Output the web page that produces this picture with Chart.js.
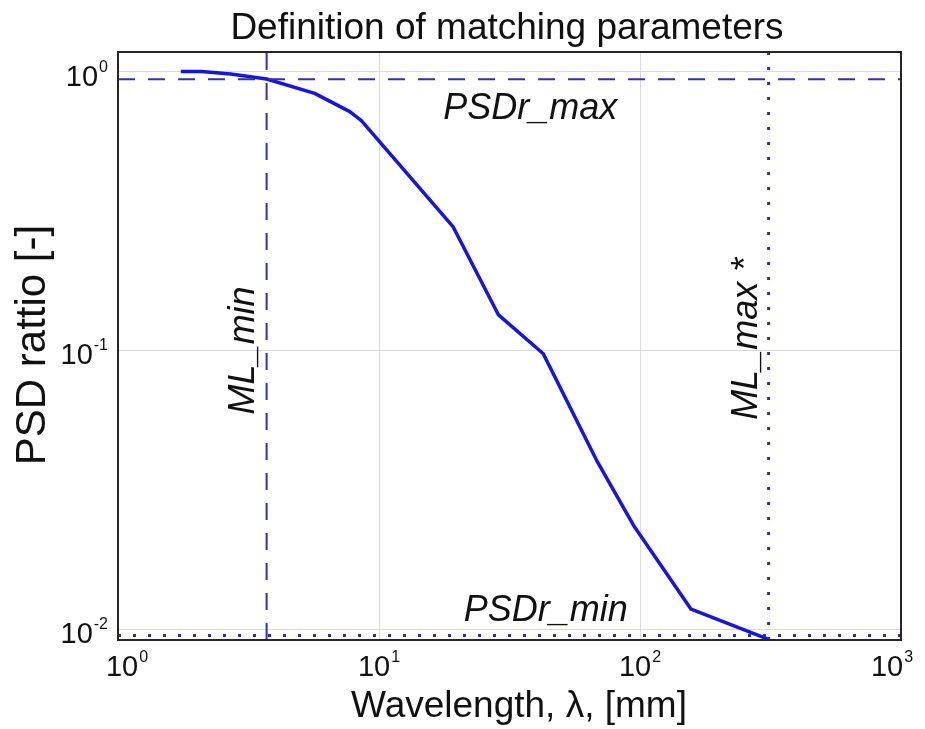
<!DOCTYPE html>
<html>
<head>
<meta charset="utf-8">
<title>Definition of matching parameters</title>
<script src="https://cdn.jsdelivr.net/npm/chart.js@4.4.1/dist/chart.umd.min.js"></script>
<style>
  html, body { margin: 0; padding: 0; background: #ffffff; }
  #wrap { width: 925px; height: 729px; }
</style>
</head>
<body>
<div id="wrap"><canvas id="chart" width="925" height="729"></canvas></div>
<script>
// PSD ratio curve against wavelength
const wavelength = [1.74, 2.09, 2.7, 3.71, 5.67, 7.73, 8.56, 19.2, 28.7, 42.6, 68.7, 95.2, 156.9, 311];
const psdRatio   = [1.0, 1.0, 0.98, 0.94, 0.835, 0.718, 0.667, 0.278, 0.134, 0.0973, 0.0398, 0.0233, 0.0118, 0.0092];

// matching parameters
const mlMin = 3.71;
const mlMax = 311;
const psdrMax = 0.938;
const psdrMin = 0.0095;

// axis ranges and decade ticks
const xRange = [1, 1000];
const yRange = [0.00915, 1.175];
const xTickExps = [0, 1, 2, 3];
const yTickExps = [-2, -1, 0];

const FONT = '"Liberation Sans", Arial, Helvetica, sans-serif';
const INK = '#111111';

function pts(xs, ys) { return xs.map((x, i) => ({ x: x, y: ys[i] })); }

const datasets = [
  { // horizontal PSDr_max
    data: pts(xRange, [psdrMax, psdrMax]),
    borderColor: '#2f2fb8', borderWidth: 2, borderDash: [17, 13], pointRadius: 0
  },
  { // vertical ML_min
    data: pts([mlMin, mlMin], yRange),
    borderColor: '#2f2fb8', borderWidth: 2, borderDash: [17, 13], pointRadius: 0
  },
  { // horizontal PSDr_min
    data: pts(xRange, [psdrMin, psdrMin]),
    borderColor: '#2d2daa', borderWidth: 3, borderDash: [3, 12], borderCapStyle: 'butt', pointRadius: 0
  },
  { // vertical ML_max
    data: pts([mlMax, mlMax], yRange),
    borderColor: '#2d2daa', borderWidth: 3, borderDash: [3, 12], borderCapStyle: 'butt', pointRadius: 0
  },
  { // PSD ratio
    data: pts(wavelength, psdRatio),
    borderColor: '#1414e6', borderWidth: 3.5, pointRadius: 0, borderJoinStyle: 'round'
  }
];

function powLabel(ctx, exp, x, y, align) {
  // draws "10^exp" with the exponent raised; x is the anchor, y the main baseline
  const base = '10', sup = String(exp);
  ctx.font = '29px ' + FONT;
  const wb = ctx.measureText(base).width;
  ctx.font = '16px ' + FONT;
  const ws = ctx.measureText(sup).width;
  const total = wb + 1 + ws;
  let left = x;
  if (align === 'center') left = x - total / 2;
  else if (align === 'right') left = x - total;
  ctx.textAlign = 'left';
  ctx.textBaseline = 'alphabetic';
  ctx.font = '29px ' + FONT;
  ctx.fillText(base, left, y);
  ctx.font = '16px ' + FONT;
  ctx.fillText(sup, left + wb + 1, y - 14);
}

const decor = {
  id: 'decor',
  beforeDatasetsDraw(chart) {
    const ctx = chart.ctx;
    const xs = chart.scales.x, ys = chart.scales.y;
    const a = chart.chartArea;
    ctx.save();
    ctx.fillStyle = INK;

    // tick labels
    xTickExps.forEach((e, i) => {
      let px = xs.getPixelForValue(Math.pow(10, e));
      if (i === 0) px += 9;
      if (i === xTickExps.length - 1) px -= 9;
      powLabel(ctx, e, px, a.bottom + 36, 'center');
    });
    yTickExps.forEach(e => {
      const py = ys.getPixelForValue(Math.pow(10, e));
      powLabel(ctx, e, a.left - 10, py + 14, 'right');
    });

    // title and axis titles
    ctx.textAlign = 'center';
    ctx.textBaseline = 'alphabetic';
    ctx.font = '37px ' + FONT;
    ctx.fillText('Definition of matching parameters', 507, 39);
    ctx.fillText('Wavelength, \u03bb, [mm]', 519, 717);
    ctx.save();
    ctx.translate(45, 345);
    ctx.rotate(-Math.PI / 2);
    ctx.font = '42px ' + FONT;
    ctx.fillText('PSD rattio [-]', 0, 0);
    ctx.restore();
    ctx.restore();
  },
  afterDatasetsDraw(chart) {
    const ctx = chart.ctx;
    const xs = chart.scales.x, ys = chart.scales.y;
    const a = chart.chartArea;
    ctx.save();
    ctx.fillStyle = INK;
    ctx.font = 'italic 36px ' + FONT;
    ctx.textAlign = 'center';
    ctx.textBaseline = 'alphabetic';
    ctx.fillText('PSDr_max', xs.getPixelForValue(38), ys.getPixelForValue(psdrMax) + 40);
    ctx.fillText('PSDr_min', xs.getPixelForValue(43.5), ys.getPixelForValue(psdrMin) - 14);

    ctx.save();
    ctx.translate(xs.getPixelForValue(mlMin) - 13, ys.getPixelForValue(0.1));
    ctx.rotate(-Math.PI / 2);
    ctx.fillText('ML_min', 0, 0);
    ctx.restore();

    ctx.save();
    ctx.translate(xs.getPixelForValue(mlMax) - 12, ys.getPixelForValue(0.11));
    ctx.rotate(-Math.PI / 2);
    ctx.fillText('ML_max *', 0, 0);
    ctx.restore();

    // axes box
    ctx.strokeStyle = '#262626';
    ctx.lineWidth = 2;
    ctx.strokeRect(a.left, a.top, a.right - a.left, a.bottom - a.top);
    ctx.restore();
  }
};

const decadeTicks = exps => scale => {
  scale.ticks = exps.map(e => ({ value: Math.pow(10, e) }));
};

new Chart(document.getElementById('chart'), {
  type: 'line',
  data: { datasets: datasets },
  options: {
    responsive: false,
    animation: false,
    devicePixelRatio: 1,
    layout: { padding: { left: 118, top: 52, right: 24, bottom: 89 } },
    plugins: { legend: { display: false }, tooltip: { enabled: false }, title: { display: false } },
    elements: { line: { tension: 0 } },
    scales: {
      x: {
        type: 'logarithmic', min: xRange[0], max: xRange[1],
        afterBuildTicks: decadeTicks(xTickExps),
        ticks: { display: false },
        grid: { color: '#dadada', lineWidth: 1, drawTicks: false },
        border: { display: false }
      },
      y: {
        type: 'logarithmic', min: yRange[0], max: yRange[1],
        afterBuildTicks: decadeTicks(yTickExps),
        ticks: { display: false },
        grid: { color: '#dadada', lineWidth: 1, drawTicks: false },
        border: { display: false }
      }
    }
  },
  plugins: [decor]
});
</script>
</body>
</html>
